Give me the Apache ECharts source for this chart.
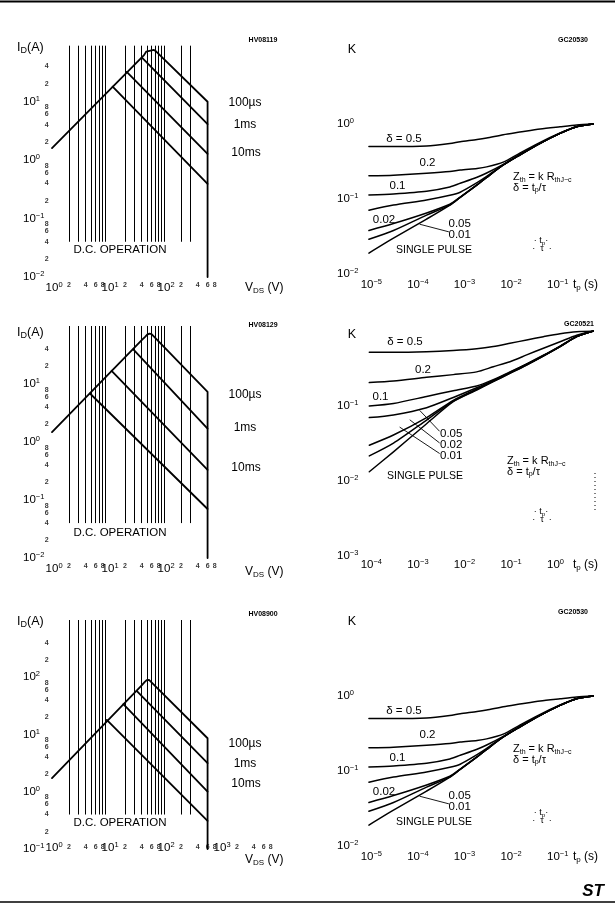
<!DOCTYPE html>
<html><head><meta charset="utf-8">
<script src="https://cdn.jsdelivr.net/npm/echarts@6.0.0/dist/echarts.min.js"></script>
<style>html,body{margin:0;padding:0;background:#fff}#c{width:615px;height:908px}</style>
</head><body><div id="c"></div>
<script>
// ================= DATA =================
// --- Safe operating area, top-left (HV08119) ---
const soa1EnvV = [1, 44, 48, 52, 66, 72, 600, 600];
const soa1EnvI = [1.6, 62, 71, 76, 76, 72, 9.9, 0.01];
const soa1Ms1V = [40, 600],   soa1Ms1I = [57, 4.1];
const soa1Ms10V = [21.6, 600], soa1Ms10I = [32, 1.27];
const soa1DcV = [12.1, 600],  soa1DcI = [17.9, 0.39];
// --- Safe operating area, middle-left (HV08129) ---
const soa2EnvV = [1, 40, 46, 50, 55, 60, 600, 600];
const soa2EnvI = [1.48, 57, 65, 71, 74, 72.5, 7.3, 0.01];
const soa2Ms1V = [28.3, 600],  soa2Ms1I = [39.5, 1.7];
const soa2Ms10V = [11.6, 600], soa2Ms10I = [16.9, 0.33];
const soa2DcV = [4.77, 600],   soa2DcI = [6.86, 0.07];
// --- Safe operating area, bottom-left (HV08900) ---
const soa3EnvV = [1, 40, 45, 49, 54, 58, 600, 600];
const soa3EnvI = [1.73, 72, 82, 89, 90, 87, 8.6, 0.1];
const soa3Ms1V = [32.5, 600],  soa3Ms1I = [57.7, 3.16];
const soa3Ms10V = [18.8, 600], soa3Ms10I = [33.8, 1.01];
const soa3DcV = [9.5, 600],    soa3DcI = [18, 0.31];
// vertical grid lines of the SOA charts (V) and their vertical extent (A)
const gridVolts = [2,3,4,5,6,7,8,9,20,30,40,50,60,70,80,90,100,200,300];
const gridSpan1 = [0.04, 90], gridSpan2 = [0.04, 100], gridSpan3 = [0.4, 1000];
// minor tick labels
const xMinorSoa = [2,4,6,8,20,40,60,80,200,400,600,800];
const xMinorSoa3 = [2,4,6,8,20,40,60,80,200,400,600,800,2000,4000,6000,8000];
const yMinorSoa12 = [0.02,0.04,0.06,0.08,0.2,0.4,0.6,0.8,2,4,6,8,20,40];
const yMinorSoa3 = [0.2,0.4,0.6,0.8,2,4,6,8,20,40,60,80,200,400];

// --- Thermal impedance, top-right & bottom-right (GC20530) ---
const tA = [1.1e-5, 3.7e-5, 1.9e-4, 6e-4, 1e-3, 2.3e-3, 3.7e-3, 8.4e-3, 1.9e-2, 5.2e-2, 0.139, 0.316, 0.72];
const kA05 = [0.5, 0.5, 0.51, 0.55, 0.58, 0.62, 0.65, 0.72, 0.78, 0.86, 0.92, 0.97, 1.0];
const kA02 = [0.204, 0.208, 0.22, 0.232, 0.244, 0.256, 0.268, 0.31, 0.41, 0.57, 0.76, 0.93, 1.0];
const kA01 = [0.113, 0.117, 0.127, 0.145, 0.162, 0.195, 0.222, 0.29, 0.39, 0.555, 0.75, 0.92, 1.0];
const kA005 = [0.071, 0.083, 0.097, 0.112, 0.123, 0.165, 0.2, 0.286, 0.388, 0.553, 0.75, 0.92, 1.0];
const kA002 = [0.038, 0.047, 0.065, 0.085, 0.106, 0.154, 0.194, 0.284, 0.386, 0.553, 0.75, 0.92, 1.0];
const kA001 = [0.029, 0.038, 0.061, 0.083, 0.105, 0.154, 0.194, 0.284, 0.386, 0.553, 0.75, 0.92, 1.0];
const kASingle = [0.019, 0.030, 0.054, 0.083, 0.105, 0.154, 0.194, 0.284, 0.386, 0.553, 0.75, 0.92, 1.0];
const leadAT = [1.37e-4, 5.6e-4], leadAK = [0.046, 0.0366];
// --- Thermal impedance, middle-right (GC20521) ---
const tB = [1.12e-4, 3.7e-4, 1.9e-3, 7.1e-3, 2.26e-2, 5.13e-2, 0.117, 0.267, 0.61, 1.39, 3.16, 7.2];
const kB05 = [0.52, 0.52, 0.53, 0.55, 0.58, 0.62, 0.685, 0.76, 0.84, 0.92, 0.98, 1.0];
const kB02 = [0.205, 0.215, 0.241, 0.262, 0.285, 0.334, 0.39, 0.48, 0.59, 0.72, 0.88, 1.0];
const kB01 = [0.1, 0.108, 0.134, 0.16, 0.185, 0.225, 0.285, 0.365, 0.475, 0.63, 0.845, 1.0];
const kB005 = [0.07, 0.076, 0.095, 0.13, 0.175, 0.22, 0.28, 0.36, 0.47, 0.625, 0.84, 1.0];
const kB002 = [0.030, 0.041, 0.070, 0.119, 0.169, 0.216, 0.278, 0.358, 0.468, 0.62, 0.84, 1.0];
const kB001 = [0.0216, 0.032, 0.065, 0.116, 0.166, 0.213, 0.275, 0.355, 0.466, 0.62, 0.84, 1.0];
const kBSingle = [0.0133, 0.0245, 0.058, 0.114, 0.163, 0.211, 0.272, 0.352, 0.464, 0.62, 0.84, 1.0];
const leadB005T = [1.37e-3, 3.56e-3], leadB005K = [0.0866, 0.0464];
const leadB002T = [8.4e-4, 3.56e-3],  leadB002K = [0.065, 0.0324];
const leadB001T = [5.1e-4, 3.56e-3],  leadB001K = [0.052, 0.0234];

// ================= LAYOUT / STYLE =================
const FONT = '"Liberation Sans", Arial, Helvetica, sans-serif';
const P = [
  {l:52,  t:43,  w:168, h:234, x:[1,1000],  y:[0.01,100], xm:4,  ym:29}, // 0 top-left
  {l:367, t:49,  w:233, h:225, x:[1e-5,1],  y:[0.01,10],  xm:4,  ym:30}, // 1 top-right
  {l:52,  t:326, w:168, h:232, x:[1,1000],  y:[0.01,100], xm:3.5,ym:29}, // 2 mid-left
  {l:367, t:331, w:233, h:225, x:[1e-4,10], y:[1e-3,1],   xm:2,  ym:30}, // 3 mid-right
  {l:52,  t:620, w:224, h:229, x:[1,10000], y:[0.1,1000], xm:-8, ym:29}, // 4 bottom-left
  {l:367, t:621, w:233, h:225, x:[1e-5,1],  y:[0.01,10],  xm:4,  ym:30}  // 5 bottom-right
];
const lg = v => Math.round(Math.log10(v));
function supFmt(isX, maxV){
  return function(v){
    const e = lg(v);
    if (e === lg(maxV)) return '';
    const es = e < 0 ? '\u2212' + (-e) : String(e);
    if (isX) return '{' + (e < 0 ? 'p2' : 'p1') + '|10}{s|' + es + '}';
    return '{b|10}{s|' + es + '}';
  };
}
const axRich = {
  b:  {fontSize:11.5, fontFamily:FONT, color:'#000', lineHeight:14},
  p1: {fontSize:11.5, fontFamily:FONT, color:'#000', lineHeight:14, padding:[0,0,0,4.2]},
  p2: {fontSize:11.5, fontFamily:FONT, color:'#000', lineHeight:14, padding:[0,0,0,8.6]},
  s:  {fontSize:7.5, fontFamily:FONT, color:'#000', lineHeight:6, verticalAlign:'top'}
};
const grid = P.map(p => ({left:p.l, top:p.t, width:p.w, height:p.h, containLabel:false}));
const xAxis = P.map((p,i) => ({type:'log', logBase:10, gridIndex:i, min:p.x[0], max:p.x[1],
  axisLine:{show:false}, axisTick:{show:false}, splitLine:{show:false}, minorTick:{show:false},
  axisLabel:{show:true, margin:p.xm, formatter:supFmt(true, p.x[1]), rich:axRich, showMinLabel:true, showMaxLabel:true}}));
const yAxis = P.map((p,i) => ({type:'log', logBase:10, gridIndex:i, min:p.y[0], max:p.y[1],
  axisLine:{show:false}, axisTick:{show:false}, splitLine:{show:false}, minorTick:{show:false},
  axisLabel:{show:true, margin:p.ym, align:'left', formatter:supFmt(false, p.y[1]), rich:axRich, showMinLabel:true, showMaxLabel:true}}));

const series = [];
function line(gi, xs, ys, w, smooth){
  const s = {type:'line', xAxisIndex:gi, yAxisIndex:gi, data:xs.map((x,k)=>[x, ys[k]]),
    symbol:'none', showSymbol:false, silent:true, animation:false, z:3,
    smooth: smooth ? 0.25 : false,
    lineStyle:{color:'#000', width:w, join:'round', cap:'round'}};
  series.push(s);
  return s;
}
function gridLines(gi, span){
  series.push({type:'line', xAxisIndex:gi, yAxisIndex:gi, data:[], silent:true, animation:false,
    markLine:{silent:true, symbol:['none','none'], animation:false, label:{show:false},
      lineStyle:{color:'#000', width:1, type:'solid'},
      data: gridVolts.map(v => [{coord:[v, span[0]]}, {coord:[v, span[1]]}])}});
}
function lead(v){ const e = Math.floor(Math.log10(v) + 1e-9); return String(Math.round(v / Math.pow(10, e))); }
function minorLabels(gi, xs, ys, p, xoff, yoff){
  series.push({type:'scatter', xAxisIndex:gi, yAxisIndex:gi, clip:false, silent:true, animation:false,
    symbolSize:1, itemStyle:{color:'rgba(0,0,0,0)'},
    data: xs.map(v => [v, p.y[0]]),
    label:{show:true, position:'inside', offset:[0, xoff], formatter: q => lead(q.value[0]),
      fontSize:7, fontWeight:'bold', fontFamily:FONT, color:'#000'}});
  series.push({type:'scatter', xAxisIndex:gi, yAxisIndex:gi, clip:false, silent:true, animation:false,
    symbolSize:1, itemStyle:{color:'rgba(0,0,0,0)'},
    data: ys.map(v => [p.x[0], v]),
    label:{show:true, position:'inside', offset:[yoff, 0], formatter: q => lead(q.value[1]),
      fontSize:7, fontWeight:'bold', fontFamily:FONT, color:'#000'}});
}

// SOA panels
const SW = 1.8;
[[0, soa1EnvV, soa1EnvI, soa1Ms1V, soa1Ms1I, soa1Ms10V, soa1Ms10I, soa1DcV, soa1DcI, gridSpan1, xMinorSoa, yMinorSoa12, 8.5],
 [2, soa2EnvV, soa2EnvI, soa2Ms1V, soa2Ms1I, soa2Ms10V, soa2Ms10I, soa2DcV, soa2DcI, gridSpan2, xMinorSoa, yMinorSoa12, 8.5],
 [4, soa3EnvV, soa3EnvI, soa3Ms1V, soa3Ms1I, soa3Ms10V, soa3Ms10I, soa3DcV, soa3DcI, gridSpan3, xMinorSoa3, yMinorSoa3, -2]
].forEach(a => {
  const gi = a[0];
  gridLines(gi, a[9]);
  line(gi, a[1], a[2], SW, false);
  line(gi, a[3], a[4], SW, false);
  line(gi, a[5], a[6], SW, false);
  line(gi, a[7], a[8], SW, false);
  minorLabels(gi, a[10], a[11], P[gi], a[12], -5.3);
});
// Thermal panels
const TW = 1.5;
[1, 5].forEach(gi => {
  [kA05, kA02, kA01, kA005, kA002, kA001, kASingle].forEach(k => line(gi, tA, k, TW, true));
  line(gi, leadAT, leadAK, 0.9, false);
});
[kB05, kB02, kB01, kB005, kB002, kB001, kBSingle].forEach(k => line(3, tB, k, TW, true));
line(3, leadB005T, leadB005K, 0.9, false);
line(3, leadB002T, leadB002K, 0.9, false);
line(3, leadB001T, leadB001K, 0.9, false);

// ================= TEXT ANNOTATIONS =================
function R(fs){ return {
  m:{fontSize:fs, fontFamily:FONT, fill:'#000', lineHeight:fs+2},
  sub:{fontSize:Math.round(fs*0.68), fontFamily:FONT, fill:'#000', lineHeight:5, verticalAlign:'bottom'}
};}
const graphic = [];
function T(x, y, text, align, fs, bold){
  graphic.push({type:'text', x:x, y:y, silent:true, z:20,
    style:{text:text, fontSize:fs, fontFamily:FONT, fontWeight:bold ? 'bold' : 'normal', fill:'#000',
      align:align, verticalAlign:'middle', rich:R(fs)}});
}
// page rules and logo
graphic.push({type:'line', silent:true, shape:{x1:0, y1:1.5, x2:615, y2:1.5}, style:{stroke:'#000', lineWidth:2}});
graphic.push({type:'line', silent:true, shape:{x1:0, y1:902, x2:615, y2:902}, style:{stroke:'#000', lineWidth:1.5}});
graphic.push({type:'text', x:593, y:891, silent:true, style:{text:'ST', fontSize:17, fontWeight:'bold', fontStyle:'italic', fontFamily:FONT, fill:'#000', align:'center', verticalAlign:'middle'}});
graphic.push({type:'line', silent:true, shape:{x1:595, y1:473, x2:595, y2:510}, style:{stroke:'#000', lineWidth:1, lineDash:[1,3]}});

const ID_A = '{m|I}{sub|D}{m|(A)}', VDS = '{m|V}{sub|DS}{m| (V)}', TPS = '{m|t}{sub|p}{m| (s)}';
const ZTH = '{m|Z}{sub|th}{m| = k R}{sub|thJ\u2212c}', DEL = '{m|\u03b4 = t}{sub|p}{m|/\u03c4}';
const D1 = '{m|\u00b7 t}{sub|p}{m|\u00b7}', D2 = '{m|\u00b7  \u03c4  \u00b7}';
// left SOA panels
[[0, 'HV08119', 48, 40, 103, 125, 153, 250, 288],
 [2, 'HV08129', 333, 325, 395, 428, 468, 533, 571.5],
 [4, 'HV08900', 622, 614, 744, 764, 784, 823, 860]].forEach(a => {
  T(17, a[2], ID_A, 'left', 12.5);
  T(263, a[3], a[1], 'center', 7, true);
  T(245, a[4], '100\u00b5s', 'center', 12);
  T(245, a[5], '1ms', 'center', 12);
  T(246, a[6], '10ms', 'center', 12);
  T(120, a[7], 'D.C. OPERATION', 'center', 11.5);
  T(245, a[8], VDS, 'left', 12);
});
// right thermal panels (top & bottom share layout)
[[0, 'GC20530'], [572, 'GC20530']].forEach(a => {
  const o = a[0];
  T(352, 50 + o, 'K', 'center', 12.5);
  T(573, 40 + o, a[1], 'center', 7, true);
  T(404, 138.5 + o, '\u03b4 = 0.5', 'center', 11.5);
  T(427.5, 162.5 + o, '0.2', 'center', 11.5);
  T(397.5, 186 + o, '0.1', 'center', 11.5);
  T(384, 220 + o, '0.02', 'center', 11.5);
  T(448.5, 223.5 + o, '0.05', 'left', 11.5);
  T(448.5, 234.5 + o, '0.01', 'left', 11.5);
  T(434, 250 + o, 'SINGLE PULSE', 'center', 10.5);
  T(513, 177 + o, ZTH, 'left', 11);
  T(513, 187.5 + o, DEL, 'left', 11);
  T(541, 241 + o, D1, 'center', 9);
  T(542, 249 + o, D2, 'center', 9);
  T(573, 285 + o, TPS, 'left', 12);
});
// middle-right thermal panel
T(352, 335, 'K', 'center', 12.5);
T(579, 324, 'GC20521', 'center', 7, true);
T(405, 341.5, '\u03b4 = 0.5', 'center', 11.5);
T(423, 369.5, '0.2', 'center', 11.5);
T(380.5, 396.5, '0.1', 'center', 11.5);
T(440, 433.5, '0.05', 'left', 11.5);
T(440, 445, '0.02', 'left', 11.5);
T(440, 456, '0.01', 'left', 11.5);
T(425, 476, 'SINGLE PULSE', 'center', 10.5);
T(507, 461, ZTH, 'left', 11);
T(507, 471.5, DEL, 'left', 11);
T(541, 512, D1, 'center', 9);
T(542, 520, D2, 'center', 9);
T(573, 565, TPS, 'left', 12);

const chart = echarts.init(document.getElementById('c'), null, {renderer:'canvas', width:615, height:908});
chart.setOption({animation:false, backgroundColor:'#fff', grid, xAxis, yAxis, series, graphic});
</script></body></html>
